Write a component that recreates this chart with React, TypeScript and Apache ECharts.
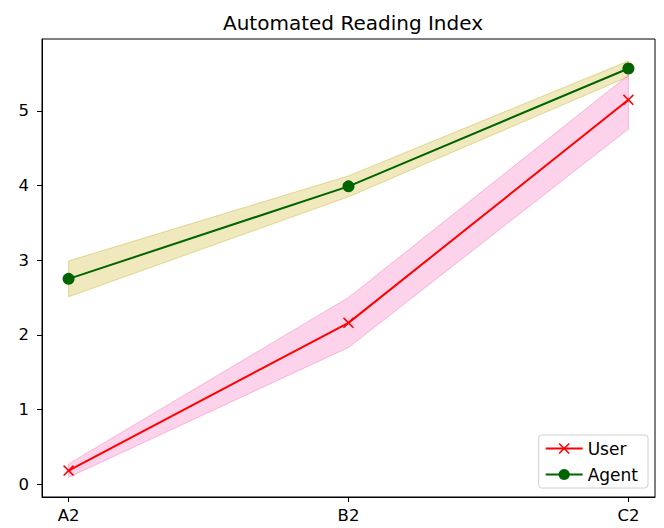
import React, { useEffect, useRef } from "react";
import * as echarts from "echarts";

const categories = ["A2", "B2", "C2"];
const userValues = [0.18, 2.16, 5.15];
const userUpper = [0.27, 2.5, 5.48];
const userLower = [0.09, 1.83, 4.76];
const agentValues = [2.75, 3.99, 5.57];
const agentUpper = [2.99, 4.13, 5.67];
const agentLower = [2.51, 3.85, 5.46];
const yTicks = [0, 1, 2, 3, 4, 5];

const FONT = "DejaVu Sans";
const X_SYMBOL =
  "path://M0,1L1,0L5,4L9,0L10,1L6,5L10,9L9,10L5,6L1,10L0,9L4,5Z";

function bandSeries(name: string, upper: number[], lower: number[], fill: string, stroke: string) {
  return {
    type: "custom",
    name,
    silent: true,
    z: 1,
    data: [0],
    renderItem: (_params: any, api: any) => {
      const pts: number[][] = [];
      for (let i = 0; i < upper.length; i++) pts.push(api.coord([i, upper[i]]));
      for (let i = lower.length - 1; i >= 0; i--) pts.push(api.coord([i, lower[i]]));
      return {
        type: "polygon",
        shape: { points: pts },
        style: { fill, stroke, lineWidth: 1 },
      };
    },
  };
}

export default function App() {
  const ref = useRef<HTMLDivElement>(null);
  useEffect(() => {
    if (!ref.current) return;
    const chart = echarts.init(ref.current, null, { renderer: "svg" });
    chart.setOption({
      animation: false,
      backgroundColor: "#ffffff",
      textStyle: { fontFamily: FONT },
      title: {
        text: "Automated Reading Index",
        left: 348,
        textAlign: "center",
        top: 8,
        textStyle: { fontFamily: FONT, fontSize: 20, fontWeight: "normal", color: "#000" },
      },
      grid: {
        left: 42,
        right: 9,
        top: 39,
        bottom: 31,
        show: true,
        borderColor: "#000",
        borderWidth: 1,
        backgroundColor: "transparent",
      },
      legend: {
        orient: "vertical",
        right: 16,
        bottom: 40,
        itemWidth: 37,
        itemHeight: 14,
        itemGap: 9,
        padding: [5, 10, 5, 6],
        backgroundColor: "rgba(255,255,255,0.8)",
        borderColor: "#d0d0d0",
        borderWidth: 1,
        borderRadius: 3,
        textStyle: { fontFamily: FONT, fontSize: 17, color: "#000" },
        data: ["User", "Agent"],
      },
      xAxis: {
        type: "value",
        min: -0.095,
        max: 2.095,
        splitLine: { show: false },
        axisLine: { show: true, onZero: false, lineStyle: { color: "#000", width: 1 } },
        axisTick: {
          show: true,
          length: 5,
          customValues: [0, 1, 2],
          lineStyle: { color: "#000" },
        },
        axisLabel: {
          customValues: [0, 1, 2],
          formatter: (v: number) => categories[Math.round(v)] ?? "",
          fontFamily: FONT,
          fontSize: 16.5,
          color: "#000",
          margin: 10,
        },
      },
      yAxis: {
        type: "value",
        min: -0.174,
        max: 5.965,
        splitLine: { show: false },
        axisLine: { show: true, onZero: false, lineStyle: { color: "#000", width: 1 } },
        axisTick: {
          show: true,
          length: 5,
          customValues: yTicks,
          lineStyle: { color: "#000" },
        },
        axisLabel: {
          customValues: yTicks,
          fontFamily: FONT,
          fontSize: 16.5,
          color: "#000",
          margin: 13,
        },
      },
      series: [
        bandSeries("agentBand", agentUpper, agentLower, "rgba(215,200,90,0.4)", "rgba(205,190,80,0.55)"),
        bandSeries("userBand", userUpper, userLower, "rgba(245,120,190,0.33)", "rgba(240,120,185,0.45)"),
        {
          type: "line",
          name: "User",
          z: 3,
          data: userValues.map((v, i) => [i, v]),
          symbol: X_SYMBOL,
          symbolSize: 11,
          showSymbol: true,
          lineStyle: { color: "#ff0000", width: 2 },
          itemStyle: { color: "#ff0000" },
        },
        {
          type: "line",
          name: "Agent",
          z: 3,
          data: agentValues.map((v, i) => [i, v]),
          symbol: "circle",
          symbolSize: 12,
          showSymbol: true,
          lineStyle: { color: "#006400", width: 2 },
          itemStyle: { color: "#006400" },
        },
      ],
    });
    return () => chart.dispose();
  }, []);
  return (
    <div
      ref={ref}
      style={{ position: "fixed", left: 0, top: 0, width: 664, height: 528 }}
    />
  );
}
